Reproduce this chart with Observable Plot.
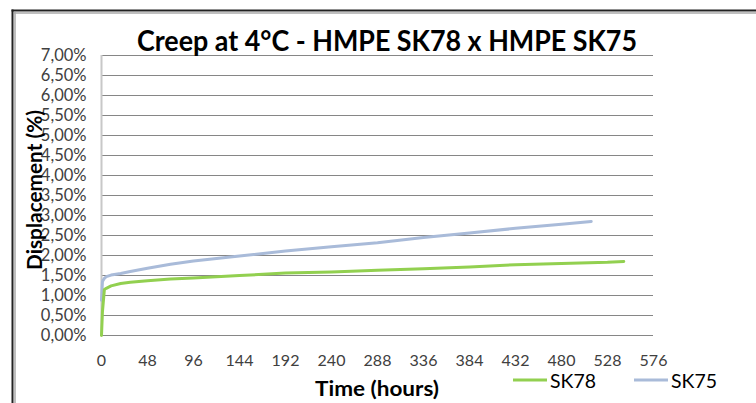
<!DOCTYPE html>
<html>
<head>
<meta charset="utf-8">
<script src="https://cdn.jsdelivr.net/npm/d3@7"></script>
<script src="https://cdn.jsdelivr.net/npm/@observablehq/plot@0.6"></script>
<style>
  html, body { margin: 0; padding: 0; background: #fff; }
  #chart { position: relative; width: 756px; height: 403px; overflow: hidden; }
  #chart svg { display: block; }
</style>
</head>
<body>
<div id="chart"></div>
<script>
// ---- data ----
const titleText = "Creep at 4\u00B0C - HMPE SK78 x HMPE SK75";
const xLabel = "Time (hours)";
const yLabel = "Displacement (%)";
const seriesNames = ["SK78", "SK75"];
const seriesColors = ["#92d050", "#a9bbd9"];

const timeSK78 = [0, 1, 3, 5, 10, 20, 30, 48, 72, 96, 144, 192, 240, 288, 336, 384, 432, 480, 528, 545];
const valSK78  = [0, 0.6, 1.15, 1.18, 1.24, 1.30, 1.33, 1.37, 1.41, 1.44, 1.50, 1.56, 1.59, 1.63, 1.67, 1.71, 1.77, 1.80, 1.83, 1.85];

const timeSK75 = [0, 1, 3, 5, 10, 20, 30, 48, 72, 96, 144, 192, 240, 288, 336, 384, 432, 480, 511];
const valSK75  = [0.88, 1.35, 1.43, 1.47, 1.51, 1.55, 1.60, 1.68, 1.78, 1.86, 1.99, 2.11, 2.22, 2.32, 2.45, 2.56, 2.68, 2.78, 2.85];

const xTicks = [0, 48, 96, 144, 192, 240, 288, 336, 384, 432, 480, 528, 576];
const yTicks = [0, 0.5, 1, 1.5, 2, 2.5, 3, 3.5, 4, 4.5, 5, 5.5, 6, 6.5, 7];

// ---- build tables ----
const sk78 = timeSK78.map((t, i) => ({t, v: valSK78[i]}));
const sk75 = timeSK75.map((t, i) => ({t, v: valSK75[i]}));
const fmtY = v => d3.format(".2f")(v).replace(".", ",") + "%";

const W = 756, H = 403;
const chart = Plot.plot({
  width: W,
  height: H,
  marginLeft: 101,
  marginRight: 103,
  marginTop: 55,
  marginBottom: 68,
  style: {fontFamily: "Lato, sans-serif", fontSize: "16px", color: "#3a3a3a", background: "#fff", overflow: "visible"},
  x: {domain: [0, 576]},
  y: {domain: [0, 7]},
  marks: [
    Plot.gridY(yTicks, {stroke: "#868686", strokeOpacity: 1, strokeWidth: 1}),
    Plot.ruleX([0], {stroke: "#c8c8c8", strokeWidth: 2}),
    Plot.axisY(yTicks, {tickSize: 0, tickPadding: 15, tickFormat: fmtY, label: null, fill: "#404040", fontSize: 16.5}),
    Plot.axisX(xTicks, {tickSize: 0, tickPadding: 19, label: null, fill: "#404040", fontSize: 16}),
    Plot.line(sk75, {x: "t", y: "v", stroke: seriesColors[1], strokeWidth: 3}),
    Plot.line(sk78, {x: "t", y: "v", stroke: seriesColors[0], strokeWidth: 3})
  ]
});
document.getElementById("chart").appendChild(chart);

// ---- decorations: frame, title, axis labels, legend ----
const svg = d3.select(chart);
const deco = svg.append("g").attr("text-anchor", "start");
// frame
deco.append("line").attr("x1", 12.5).attr("x2", 12.5).attr("y1", 9.5).attr("y2", H).attr("stroke", "#222").attr("stroke-width", 2);
deco.append("line").attr("x1", 15).attr("x2", 15).attr("y1", 12).attr("y2", H).attr("stroke", "#aaa").attr("stroke-width", 1.5);
deco.append("line").attr("x1", 11.5).attr("x2", W).attr("y1", 10.5).attr("y2", 10.5).attr("stroke", "#222").attr("stroke-width", 2);
deco.append("line").attr("x1", 14).attr("x2", W).attr("y1", 13).attr("y2", 13).attr("stroke", "#aaa").attr("stroke-width", 1.5);

// title
deco.append("text").text(titleText)
  .attr("x", 137).attr("y", 51)
  .attr("text-anchor", "start")
  .attr("textLength", 500).attr("lengthAdjust", "spacingAndGlyphs")
  .attr("font-family", "Lato, sans-serif").attr("font-weight", "bold").attr("font-size", 29)
  .attr("fill", "#000");

// y label
deco.append("text").text(yLabel)
  .attr("transform", "translate(42,270) rotate(-90)")
  .attr("text-anchor", "start")
  .attr("textLength", 160).attr("lengthAdjust", "spacingAndGlyphs")
  .attr("font-family", "Lato, sans-serif").attr("font-weight", "bold").attr("font-size", 20)
  .attr("fill", "#000");

// x label
deco.append("text").text(xLabel)
  .attr("x", 315).attr("y", 396)
  .attr("text-anchor", "start")
  .attr("textLength", 124).attr("lengthAdjust", "spacingAndGlyphs")
  .attr("font-family", "Lato, sans-serif").attr("font-weight", "bold").attr("font-size", 20)
  .attr("fill", "#000");

// legend
const legendItems = [
  {name: seriesNames[0], color: seriesColors[0], x0: 513},
  {name: seriesNames[1], color: seriesColors[1], x0: 634}
];
legendItems.forEach(d => {
  deco.append("line").attr("x1", d.x0).attr("x2", d.x0 + 34).attr("y1", 380).attr("y2", 380)
    .attr("stroke", d.color).attr("stroke-width", 3);
  deco.append("text").text(d.name)
    .attr("x", d.x0 + 37).attr("y", 388)
    .attr("text-anchor", "start")
    .attr("textLength", 46).attr("lengthAdjust", "spacingAndGlyphs")
    .attr("font-family", "Lato, sans-serif").attr("font-size", 20)
    .attr("fill", "#000");
});
</script>
</body>
</html>
